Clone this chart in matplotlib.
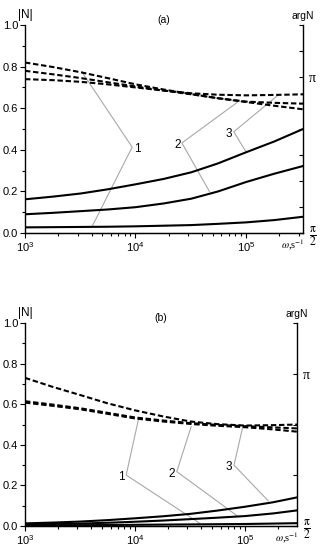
import numpy as np
import matplotlib
matplotlib.use("Agg")
import matplotlib.pyplot as plt
from matplotlib.ticker import LogLocator, NullFormatter, MultipleLocator

plt.rcParams['font.family'] = ['Liberation Sans', 'DejaVu Sans']
plt.rcParams['mathtext.fontset'] = 'stix'

# frequency points (s^-1)
omega_a = [1e3, 1.8e3, 3.2e3, 5.6e3, 1e4, 1.8e4, 3.2e4, 5.6e4, 1e5, 1.8e5, 3.28e5]
omega_b = [1e3, 1.8e3, 3.2e3, 5.6e3, 1e4, 1.8e4, 3.2e4, 5.6e4, 1e5, 1.8e5, 2.97e5]

# panel (a): |N| (solid) and argN (dashed, read on the |N| scale)
a_abs1 = [0.027, 0.028, 0.029, 0.030, 0.032, 0.035, 0.038, 0.044, 0.051, 0.062, 0.078]
a_abs2 = [0.090, 0.097, 0.105, 0.113, 0.124, 0.142, 0.165, 0.200, 0.245, 0.285, 0.322]
a_abs3 = [0.162, 0.175, 0.190, 0.210, 0.234, 0.260, 0.292, 0.335, 0.388, 0.440, 0.500]
a_arg1 = [0.820, 0.798, 0.773, 0.745, 0.715, 0.690, 0.668, 0.648, 0.630, 0.612, 0.595]
a_arg2 = [0.780, 0.763, 0.745, 0.725, 0.705, 0.685, 0.667, 0.648, 0.632, 0.626, 0.622]
a_arg3 = [0.740, 0.735, 0.727, 0.715, 0.700, 0.685, 0.672, 0.665, 0.662, 0.664, 0.667]

# panel (b)
b_abs1 = [0.003, 0.004, 0.004, 0.005, 0.006, 0.007, 0.008, 0.009, 0.010, 0.012, 0.014]
b_abs2 = [0.008, 0.010, 0.012, 0.016, 0.021, 0.027, 0.034, 0.041, 0.049, 0.062, 0.077]
b_abs3 = [0.013, 0.017, 0.022, 0.029, 0.038, 0.048, 0.060, 0.076, 0.095, 0.117, 0.141]
b_arg1 = [0.730, 0.685, 0.645, 0.605, 0.570, 0.540, 0.515, 0.502, 0.495, 0.497, 0.500]
b_arg2 = [0.615, 0.598, 0.580, 0.558, 0.535, 0.520, 0.507, 0.498, 0.492, 0.486, 0.481]
b_arg3 = [0.608, 0.592, 0.575, 0.553, 0.530, 0.515, 0.503, 0.494, 0.487, 0.476, 0.465]

# curve labels: text, side, vertex, end on dashed curve, end on solid curve (x as omega)
a_labels = [("1", 'left', (10**3.97, 0.413), (10**3.516, 0.774), (10**3.606, 0.030)),
            ("2", 'right', (10**4.42, 0.433), (10**4.92, 0.628), (10**4.67, 0.199)),
            ("3", 'right', (10**4.89, 0.487), (10**5.29, 0.663), (10**5.00, 0.390))]
b_labels = [("1", 'right', (10**3.92, 0.251), (10**4.03, 0.522), (10**4.59, 0.013)),
            ("2", 'right', (10**4.38, 0.268), (10**4.51, 0.489), (10**4.94, 0.046)),
            ("3", 'right', (10**4.90, 0.300), (10**4.98, 0.489), (10**5.21, 0.125))]


def draw_panel(ax, omega, solids, dashes, labels, title, arg_step):
    for y in solids:
        ax.plot(omega, y, color='black', lw=1.5)
    for y in dashes:
        ax.plot(omega, y, color='black', lw=1.5, dashes=(2.6, 1.3))
    for name, side, vert, p1, p2 in labels:
        ax.plot([p1[0], vert[0], p2[0]], [p1[1], vert[1], p2[1]],
                color='#a8a8a8', lw=0.8, zorder=1)
        xt = vert[0] * (0.97 if side == 'right' else 1.03)
        ax.text(xt, vert[1] - 0.01, name, fontsize=8.5, ha=side, va='center')

    ax.set_xscale('log')
    ax.set_xlim(omega[0], omega[-1])
    ax.set_ylim(0, 1.0)
    ax.yaxis.set_major_locator(MultipleLocator(0.2))
    ax.yaxis.set_minor_locator(MultipleLocator(0.1))
    ax.yaxis.set_major_formatter(plt.FuncFormatter(lambda v, p: "%.1f" % v))
    ax.xaxis.set_major_locator(LogLocator(base=10))
    ax.xaxis.set_minor_locator(LogLocator(base=10, subs=np.arange(2, 10)))
    ax.xaxis.set_minor_formatter(NullFormatter())
    ax.tick_params(which='both', direction='out', labelsize=8, width=0.8, pad=1.5)
    ax.tick_params(which='major', length=3.5)
    ax.tick_params(which='minor', length=2)
    ax.spines['top'].set_visible(False)
    ax.spines['right'].set_visible(False)

    ax2 = ax.twinx()
    ax2.set_ylim(np.pi / 2, 7 * np.pi / 6)
    ticks = np.arange(np.pi / 2, 7 * np.pi / 6 + 1e-6, arg_step)
    ax2.set_yticks(ticks)
    ax2.set_yticklabels(['π' if abs(t - np.pi) < 1e-6 else '' for t in ticks],
                        fontsize=10, family='Liberation Serif')
    ax2.tick_params(direction='in', length=3, width=0.8, pad=4)
    ax2.spines['top'].set_visible(False)
    ax2.spines['left'].set_visible(False)
    for s in ('left', 'bottom', 'right'):
        ax.spines[s].set_linewidth(1.0)
    ax2.spines['right'].set_linewidth(1.0)

    ax.text(1.036, -0.018, '$\\frac{\\mathrm{π}}{2}$', transform=ax.transAxes,
            fontsize=12, ha='center', va='center')
    ax.text(1.005, -0.06, '$\\omega$,s$^{-1}$', transform=ax.transAxes,
            fontsize=7.5, ha='right', va='center', family='Liberation Serif')
    ax.text(0.0, 1.02, '|N|', transform=ax.transAxes, fontsize=8.5,
            ha='center', va='bottom')
    ax.text(1.0, 1.02, 'argN', transform=ax.transAxes, fontsize=7.5,
            ha='center', va='bottom')
    ax.text(0.5, 1.0, title, transform=ax.transAxes, fontsize=7.5,
            ha='center', va='bottom')


fig = plt.figure(figsize=(3.22, 5.5), dpi=100)
ax_a = fig.add_axes([0.0776, 0.5764, 0.8634, 0.378])
ax_b = fig.add_axes([0.0776, 0.0436, 0.8447, 0.369])

draw_panel(ax_a, omega_a, [a_abs1, a_abs2, a_abs3], [a_arg1, a_arg2, a_arg3],
           a_labels, '(a)', np.pi / 12)
draw_panel(ax_b, omega_b, [b_abs1, b_abs2, b_abs3], [b_arg1, b_arg2, b_arg3],
           b_labels, '(b)', np.pi / 6)

fig.savefig('out.png', dpi=100)
